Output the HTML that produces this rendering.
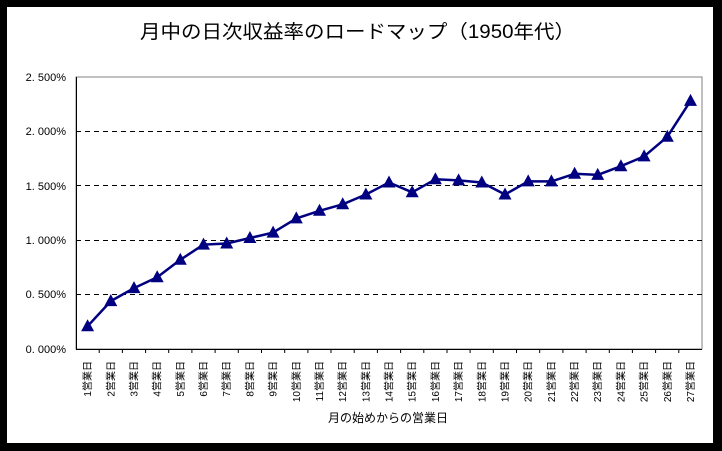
<!DOCTYPE html>
<html><head><meta charset="utf-8"><style>
html,body{margin:0;padding:0;background:#000;}
svg{display:block}
</style></head><body>
<svg width="722" height="451" xmlns="http://www.w3.org/2000/svg" font-family="'Liberation Sans','Noto Sans CJK JP',sans-serif">
<defs>
<marker id="tri" markerUnits="userSpaceOnUse" markerWidth="16" markerHeight="16" refX="8" refY="8" orient="0" viewBox="0 0 16 16">
<polygon points="8,1 1.5,13 14.5,13" fill="#000080"/>
</marker>
</defs>
<rect x="0" y="0" width="722" height="451" fill="#000"/>
<rect x="7" y="7" width="706" height="436" fill="#fff"/>
<text x="140" y="38" font-size="19" textLength="435" lengthAdjust="spacingAndGlyphs" fill="#000">月中の日次収益率のロードマップ（1950年代）</text>
<rect x="76" y="77" width="626" height="272" fill="#fff" stroke="#808080" stroke-width="1"/>
<g stroke="#000" stroke-width="1" stroke-dasharray="5,4">
<line x1="76" y1="131.5" x2="702" y2="131.5"/>
<line x1="76" y1="185.5" x2="702" y2="185.5"/>
<line x1="76" y1="240.5" x2="702" y2="240.5"/>
<line x1="76" y1="294.5" x2="702" y2="294.5"/>
</g>
<line x1="76.5" y1="77" x2="76.5" y2="349" stroke="#000"/>
<line x1="76" y1="349.5" x2="702" y2="349.5" stroke="#000"/>
<path stroke="#000" d="M99.2 349V353M122.4 349V353M145.6 349V353M168.7 349V353M191.9 349V353M215.1 349V353M238.3 349V353M261.5 349V353M284.7 349V353M307.9 349V353M331 349V353M354.2 349V353M377.4 349V353M400.6 349V353M423.8 349V353M447 349V353M470.1 349V353M493.3 349V353M516.5 349V353M539.7 349V353M562.9 349V353M586.1 349V353M609.3 349V353M632.4 349V353M655.6 349V353M678.8 349V353"/>
<g font-size="11" text-anchor="end" fill="#000">
<text x="66" y="81">2. 500%</text>
<text x="66" y="135">2. 000%</text>
<text x="66" y="190">1. 500%</text>
<text x="66" y="244">1. 000%</text>
<text x="66" y="298">0. 500%</text>
<text x="66" y="353">0. 000%</text>
</g>
<polyline fill="none" stroke="#000080" stroke-width="2.5" stroke-linejoin="round" marker-start="url(#tri)" marker-mid="url(#tri)" marker-end="url(#tri)" points="87.6,326.2 110.8,301.1 134,288.1 157.2,277.2 180.3,259.8 203.5,244.6 226.7,243.5 249.9,238 273.1,232.6 296.3,218.4 319.5,210.8 342.7,204.3 365.9,194.5 389,182.5 412.2,192.3 435.4,179.3 458.6,180.4 481.8,182.5 505,194.5 528.2,181.4 551.4,181.4 574.6,173.8 597.7,174.9 620.9,166.2 644.1,156.4 667.3,136.8 690.5,100.9"/>
<g font-size="10" fill="#000" text-anchor="end">
<text transform="translate(91.1,361) rotate(-90)">1営業日</text>
<text transform="translate(114.3,361) rotate(-90)">2営業日</text>
<text transform="translate(137.5,361) rotate(-90)">3営業日</text>
<text transform="translate(160.7,361) rotate(-90)">4営業日</text>
<text transform="translate(183.8,361) rotate(-90)">5営業日</text>
<text transform="translate(207,361) rotate(-90)">6営業日</text>
<text transform="translate(230.2,361) rotate(-90)">7営業日</text>
<text transform="translate(253.4,361) rotate(-90)">8営業日</text>
<text transform="translate(276.6,361) rotate(-90)">9営業日</text>
<text transform="translate(299.8,361) rotate(-90)">10営業日</text>
<text transform="translate(323,361) rotate(-90)">11営業日</text>
<text transform="translate(346.2,361) rotate(-90)">12営業日</text>
<text transform="translate(369.4,361) rotate(-90)">13営業日</text>
<text transform="translate(392.5,361) rotate(-90)">14営業日</text>
<text transform="translate(415.7,361) rotate(-90)">15営業日</text>
<text transform="translate(438.9,361) rotate(-90)">16営業日</text>
<text transform="translate(462.1,361) rotate(-90)">17営業日</text>
<text transform="translate(485.3,361) rotate(-90)">18営業日</text>
<text transform="translate(508.5,361) rotate(-90)">19営業日</text>
<text transform="translate(531.7,361) rotate(-90)">20営業日</text>
<text transform="translate(554.9,361) rotate(-90)">21営業日</text>
<text transform="translate(578.1,361) rotate(-90)">22営業日</text>
<text transform="translate(601.2,361) rotate(-90)">23営業日</text>
<text transform="translate(624.4,361) rotate(-90)">24営業日</text>
<text transform="translate(647.6,361) rotate(-90)">25営業日</text>
<text transform="translate(670.8,361) rotate(-90)">26営業日</text>
<text transform="translate(694,361) rotate(-90)">27営業日</text>
</g>
<text x="388" y="422" font-size="12" text-anchor="middle" fill="#000">月の始めからの営業日</text>
</svg>
</body></html>
